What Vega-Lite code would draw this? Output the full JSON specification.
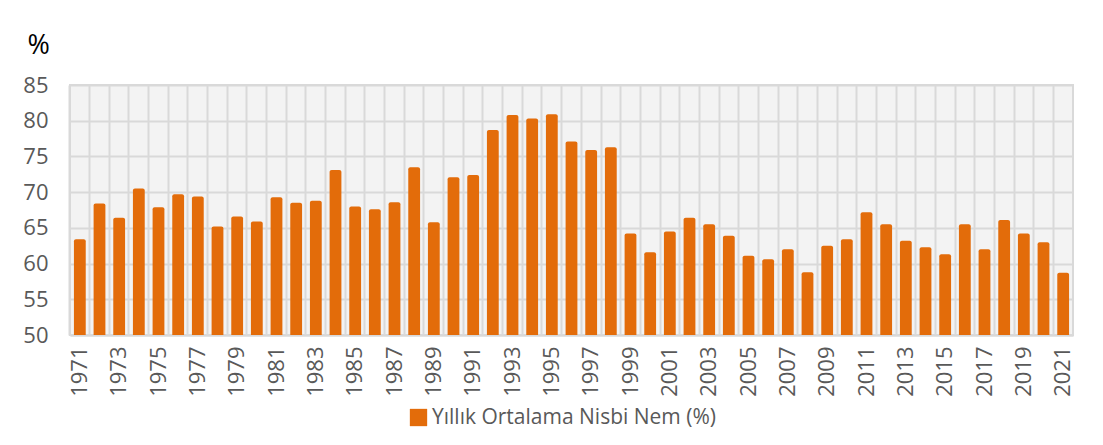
{
  "$schema": "https://vega.github.io/schema/vega-lite/v6.json",
  "autosize": "none",
  "width": 1003,
  "height": 250,
  "padding": {"left": 70, "top": 85, "right": 30, "bottom": 110},
  "background": "#ffffff",
  "config": {
    "font": "Open Sans",
    "view": {"fill": "#f3f3f3", "stroke": "#d9d9d9", "strokeWidth": 2}
  },
  "data": {
    "values": [
      {"year": 1971, "value": 63.4, "series": "Yıllık Ortalama Nisbi Nem (%)"},
      {"year": 1972, "value": 68.4, "series": "Yıllık Ortalama Nisbi Nem (%)"},
      {"year": 1973, "value": 66.4, "series": "Yıllık Ortalama Nisbi Nem (%)"},
      {"year": 1974, "value": 70.5, "series": "Yıllık Ortalama Nisbi Nem (%)"},
      {"year": 1975, "value": 67.9, "series": "Yıllık Ortalama Nisbi Nem (%)"},
      {"year": 1976, "value": 69.7, "series": "Yıllık Ortalama Nisbi Nem (%)"},
      {"year": 1977, "value": 69.4, "series": "Yıllık Ortalama Nisbi Nem (%)"},
      {"year": 1978, "value": 65.2, "series": "Yıllık Ortalama Nisbi Nem (%)"},
      {"year": 1979, "value": 66.6, "series": "Yıllık Ortalama Nisbi Nem (%)"},
      {"year": 1980, "value": 65.9, "series": "Yıllık Ortalama Nisbi Nem (%)"},
      {"year": 1981, "value": 69.3, "series": "Yıllık Ortalama Nisbi Nem (%)"},
      {"year": 1982, "value": 68.5, "series": "Yıllık Ortalama Nisbi Nem (%)"},
      {"year": 1983, "value": 68.8, "series": "Yıllık Ortalama Nisbi Nem (%)"},
      {"year": 1984, "value": 73.1, "series": "Yıllık Ortalama Nisbi Nem (%)"},
      {"year": 1985, "value": 68.0, "series": "Yıllık Ortalama Nisbi Nem (%)"},
      {"year": 1986, "value": 67.6, "series": "Yıllık Ortalama Nisbi Nem (%)"},
      {"year": 1987, "value": 68.6, "series": "Yıllık Ortalama Nisbi Nem (%)"},
      {"year": 1988, "value": 73.5, "series": "Yıllık Ortalama Nisbi Nem (%)"},
      {"year": 1989, "value": 65.8, "series": "Yıllık Ortalama Nisbi Nem (%)"},
      {"year": 1990, "value": 72.1, "series": "Yıllık Ortalama Nisbi Nem (%)"},
      {"year": 1991, "value": 72.4, "series": "Yıllık Ortalama Nisbi Nem (%)"},
      {"year": 1992, "value": 78.7, "series": "Yıllık Ortalama Nisbi Nem (%)"},
      {"year": 1993, "value": 80.8, "series": "Yıllık Ortalama Nisbi Nem (%)"},
      {"year": 1994, "value": 80.3, "series": "Yıllık Ortalama Nisbi Nem (%)"},
      {"year": 1995, "value": 80.9, "series": "Yıllık Ortalama Nisbi Nem (%)"},
      {"year": 1996, "value": 77.1, "series": "Yıllık Ortalama Nisbi Nem (%)"},
      {"year": 1997, "value": 75.9, "series": "Yıllık Ortalama Nisbi Nem (%)"},
      {"year": 1998, "value": 76.3, "series": "Yıllık Ortalama Nisbi Nem (%)"},
      {"year": 1999, "value": 64.2, "series": "Yıllık Ortalama Nisbi Nem (%)"},
      {"year": 2000, "value": 61.6, "series": "Yıllık Ortalama Nisbi Nem (%)"},
      {"year": 2001, "value": 64.5, "series": "Yıllık Ortalama Nisbi Nem (%)"},
      {"year": 2002, "value": 66.4, "series": "Yıllık Ortalama Nisbi Nem (%)"},
      {"year": 2003, "value": 65.5, "series": "Yıllık Ortalama Nisbi Nem (%)"},
      {"year": 2004, "value": 63.9, "series": "Yıllık Ortalama Nisbi Nem (%)"},
      {"year": 2005, "value": 61.1, "series": "Yıllık Ortalama Nisbi Nem (%)"},
      {"year": 2006, "value": 60.6, "series": "Yıllık Ortalama Nisbi Nem (%)"},
      {"year": 2007, "value": 62.0, "series": "Yıllık Ortalama Nisbi Nem (%)"},
      {"year": 2008, "value": 58.8, "series": "Yıllık Ortalama Nisbi Nem (%)"},
      {"year": 2009, "value": 62.5, "series": "Yıllık Ortalama Nisbi Nem (%)"},
      {"year": 2010, "value": 63.4, "series": "Yıllık Ortalama Nisbi Nem (%)"},
      {"year": 2011, "value": 67.2, "series": "Yıllık Ortalama Nisbi Nem (%)"},
      {"year": 2012, "value": 65.5, "series": "Yıllık Ortalama Nisbi Nem (%)"},
      {"year": 2013, "value": 63.2, "series": "Yıllık Ortalama Nisbi Nem (%)"},
      {"year": 2014, "value": 62.3, "series": "Yıllık Ortalama Nisbi Nem (%)"},
      {"year": 2015, "value": 61.3, "series": "Yıllık Ortalama Nisbi Nem (%)"},
      {"year": 2016, "value": 65.5, "series": "Yıllık Ortalama Nisbi Nem (%)"},
      {"year": 2017, "value": 62.0, "series": "Yıllık Ortalama Nisbi Nem (%)"},
      {"year": 2018, "value": 66.1, "series": "Yıllık Ortalama Nisbi Nem (%)"},
      {"year": 2019, "value": 64.2, "series": "Yıllık Ortalama Nisbi Nem (%)"},
      {"year": 2020, "value": 63.0, "series": "Yıllık Ortalama Nisbi Nem (%)"},
      {"year": 2021, "value": 58.7, "series": "Yıllık Ortalama Nisbi Nem (%)"}
    ]
  },
  "mark": {"type": "bar", "width": {"band": 0.6}, "cornerRadiusTopLeft": 2, "cornerRadiusTopRight": 2},
  "encoding": {
    "x": {
      "field": "year",
      "type": "ordinal",
      "scale": {"paddingInner": 0, "paddingOuter": 0},
      "axis": {
        "title": null,
        "labelAngle": -90,
        "labelAlign": "right",
        "labelBaseline": "middle",
        "labelPadding": 11,
        "labelFontSize": 22,
        "labelColor": "#595959",
        "labelExpr": "(datum.value - 1971) % 2 == 0 ? datum.label : ''",
        "ticks": false,
        "domainColor": "#d9d9d9",
        "domainWidth": 2,
        "grid": true,
        "gridColor": "#d9d9d9",
        "gridWidth": 2,
        "bandPosition": 0
      }
    },
    "y": {
      "field": "value",
      "type": "quantitative",
      "scale": {"domain": [50, 85], "nice": false, "zero": false},
      "axis": {
        "title": "%",
        "titleAngle": 0,
        "titleAlign": "left",
        "titleBaseline": "alphabetic",
        "titleX": -43,
        "titleY": -32,
        "titleFontSize": 27,
        "titleFontWeight": "normal",
        "titleColor": "#000000",
        "values": [50, 55, 60, 65, 70, 75, 80, 85],
        "labelFontSize": 22,
        "labelColor": "#595959",
        "labelPadding": 22,
        "ticks": false,
        "domain": false,
        "gridColor": "#d9d9d9",
        "gridWidth": 2
      }
    },
    "y2": {"datum": 50},
    "color": {
      "field": "series",
      "type": "nominal",
      "scale": {"range": ["#e36c0a"]},
      "legend": {
        "title": null,
        "orient": "none",
        "legendX": 338,
        "legendY": 322,
        "symbolType": "square",
        "symbolSize": 300,
        "symbolStrokeWidth": 0,
        "labelFontSize": 21,
        "labelLimit": 500,
        "labelColor": "#595959",
        "labelOffset": 3
      }
    }
  }
}
